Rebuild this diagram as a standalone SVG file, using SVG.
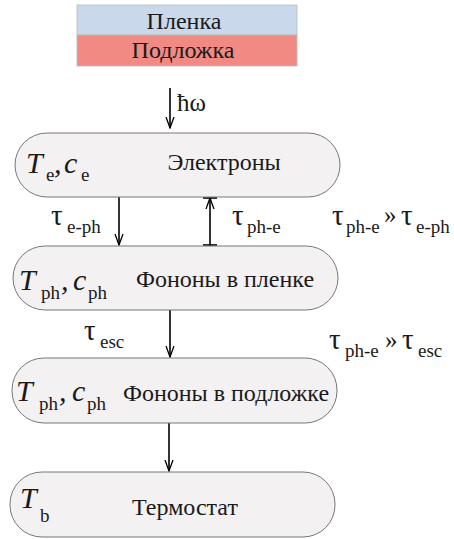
<svg xmlns="http://www.w3.org/2000/svg" width="454" height="539" viewBox="0 0 454 539">
<style>
text{fill:#1a1a1a;font-family:'Liberation Serif','Times New Roman',serif}
.lbl{font-size:24px}
.it{font-style:italic;font-size:30px}
.sub{font-size:19px}
.tau{font-size:29px}
.gg{font-size:25px}
.node{fill:#f3f1f2;stroke:#777;stroke-width:1}
.ln{stroke:#000;stroke-width:1.6;fill:none}
</style>
<defs>
<marker id="ah" markerWidth="12" markerHeight="10" refX="11" refY="5" orient="auto" markerUnits="userSpaceOnUse">
<path d="M0,1 L11,5 L0,9" fill="none" stroke="#000" stroke-width="1.3"/>
</marker>
</defs>
<g id="layers" font-family="Liberation Serif, serif">
<rect x="77" y="5" width="220" height="30" fill="#cad8ec" stroke="#bbb" stroke-width="0.8"/>
<rect x="77" y="35" width="220" height="31" fill="#f08a82" stroke="#bbb" stroke-width="0.8"/>
<text class="lbl" x="184" y="29" text-anchor="middle" font-size="23px">Пленка</text>
<text class="lbl" x="183" y="58" text-anchor="middle" font-size="23px">Подложка</text>
</g>
<g id="connectors">
<line class="ln" x1="170" y1="88" x2="170" y2="128" marker-end="url(#ah)"/>
<line class="ln" x1="119" y1="197" x2="119" y2="245" marker-end="url(#ah)"/>
<line class="ln" x1="210" y1="246" x2="210" y2="198" marker-end="url(#ah)"/>
<line class="ln" x1="203" y1="198" x2="217" y2="198" stroke-width="2.2"/>
<line class="ln" x1="203" y1="245" x2="217" y2="245" stroke-width="2.2"/>
<line class="ln" x1="170" y1="310" x2="170" y2="357" marker-end="url(#ah)"/>
<line class="ln" x1="169" y1="423" x2="169" y2="471" marker-end="url(#ah)"/>
</g>
<g id="photon" font-family="Liberation Serif, serif">
<text x="177" y="111" font-size="25px">ħω</text>
</g>
<g id="electrons" font-family="Liberation Serif, serif">
<rect class="node" x="15" y="133" width="325" height="64" rx="32"/>
<text class="it" x="26" y="173">T</text><text class="sub" x="46" y="181">e</text><text class="it" x="54" y="173">,</text><text class="it" x="64" y="173">c</text><text class="sub" x="81" y="181">e</text>
<text class="lbl" x="224" y="170" text-anchor="middle">Электроны</text>
</g>
<g id="phonons-film" font-family="Liberation Serif, serif">
<rect class="node" x="13" y="246" width="325" height="64" rx="32"/>
<text class="it" x="19" y="290">T</text><text class="sub" x="41" y="299">ph</text><text class="it" x="61" y="290">,</text><text class="it" x="73" y="290">c</text><text class="sub" x="88" y="299">ph</text>
<text class="lbl" x="225" y="287" text-anchor="middle">Фононы в пленке</text>
</g>
<g id="phonons-substrate" font-family="Liberation Serif, serif">
<rect class="node" x="12" y="358" width="325" height="65" rx="32"/>
<text class="it" x="16" y="401">T</text><text class="sub" x="39" y="410">ph</text><text class="it" x="59" y="401">,</text><text class="it" x="72" y="401">c</text><text class="sub" x="87" y="410">ph</text>
<text class="lbl" x="226" y="401" text-anchor="middle">Фононы в подложке</text>
</g>
<g id="thermostat" font-family="Liberation Serif, serif">
<rect class="node" x="10" y="472" width="325" height="65" rx="32"/>
<text class="it" x="20" y="508">T</text><text class="sub" x="40" y="522">b</text>
<text class="lbl" x="185" y="515" text-anchor="middle">Термостат</text>
</g>
<g id="labels" font-family="Liberation Serif, serif">
<text class="tau" x="51" y="225">τ</text><text class="sub" x="67" y="233">e-ph</text>
<text class="tau" x="232" y="225">τ</text><text class="sub" x="247" y="233">ph-e</text>
<text class="tau" x="332" y="225">τ</text><text class="sub" x="346" y="233">ph-e</text><text class="gg" x="384" y="223">»</text><text class="tau" x="401" y="225">τ</text><text class="sub" x="416" y="233">e-ph</text>
<text class="tau" x="84" y="340">τ</text><text class="sub" x="100" y="348">esc</text>
<text class="tau" x="329" y="349">τ</text><text class="sub" x="345" y="357">ph-e</text><text class="gg" x="385" y="348">»</text><text class="tau" x="402" y="349">τ</text><text class="sub" x="418" y="357">esc</text>
</g>
</svg>
